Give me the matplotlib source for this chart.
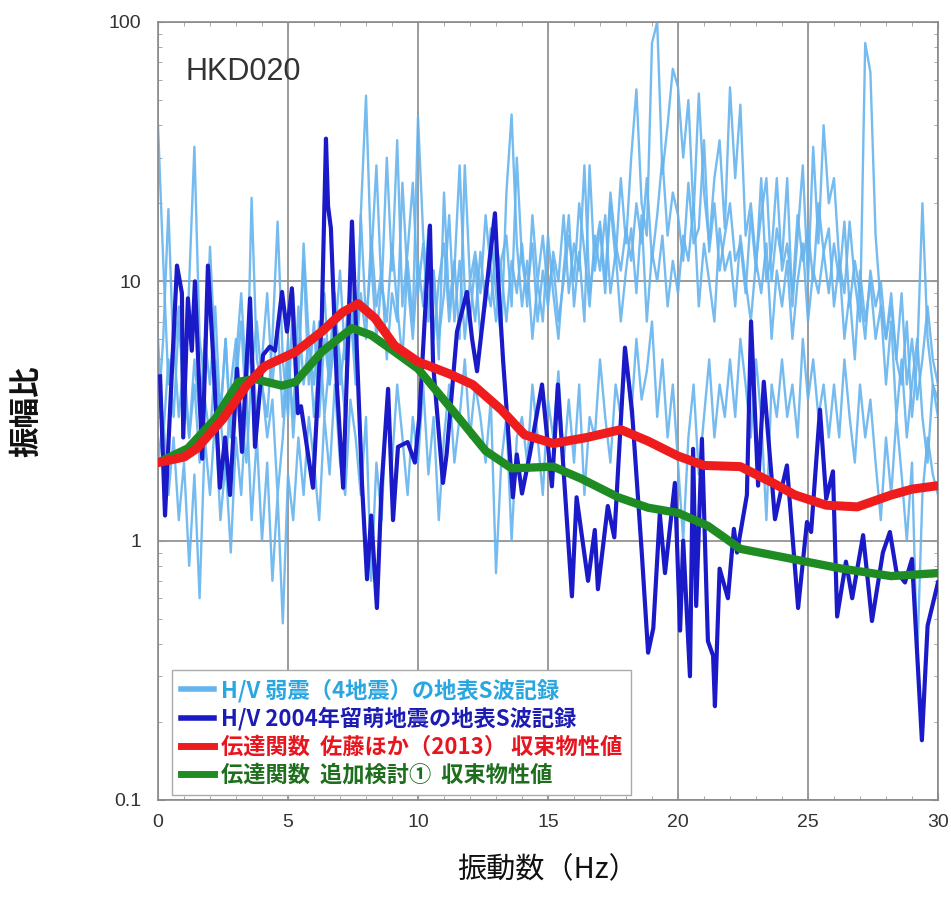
import numpy as np
import matplotlib
matplotlib.use("Agg")
import matplotlib.pyplot as plt
from matplotlib.lines import Line2D
from matplotlib.ticker import MultipleLocator, LogLocator, NullFormatter, FixedLocator, FixedFormatter

plt.rcParams['font.family'] = ['Noto Sans CJK JP', 'DejaVu Sans']

# ---------------- data ----------------
freq_grid = np.round(np.arange(0, 30.001, 0.2), 2)

weak1 = [40, 12, 4, 6, 3, 5, 2.5, 4, 2, 3.5,
         2.5, 5, 3, 1.8, 4, 6, 3, 2, 4.5, 7,
         4, 2.5, 3.5, 1.5, 2.5, 5, 3, 8, 4, 6,
         3, 5, 9, 4, 6, 11, 5, 8, 4, 18,
         52, 12, 6, 10, 7, 14, 8, 5, 12, 7,
         43, 15, 8, 11, 6, 9, 18, 7, 12, 6,
         10, 7, 13, 8, 16, 9, 6, 22, 44, 14,
         8, 12, 6, 10, 7, 15, 9, 6, 11, 18,
         8, 13, 7, 28, 11, 16, 9, 20, 12, 25,
         14, 30, 55, 20, 15, 83, 100, 26, 40, 66,
         56, 30, 50, 18, 53, 22, 14, 25, 35, 16,
         56, 25, 48, 15, 20, 12, 18, 25, 10, 16,
         12, 25, 8, 15, 28, 10, 33, 14, 40, 20,
         25, 12, 9, 17, 10, 7, 83, 64, 15, 8,
         6, 9, 5, 4, 7, 3, 5, 20, 6, 4,
         3.5]
weak2 = [3, 6, 19, 5, 8, 3, 10, 33, 6, 4,
         13.6, 5, 3, 6, 2.5, 4, 7, 3, 21, 5,
         4, 3, 6, 17, 5, 3, 9, 4, 14, 6,
         4, 7, 3, 5, 9, 4, 6, 10, 5, 18,
         7, 12, 28, 9, 30, 11, 35, 8, 13, 24,
         9, 14, 7, 11, 5, 22, 8, 12, 6, 28,
         10, 13, 9, 18, 11, 7, 12, 15, 8, 30,
         12, 9, 14, 7, 11, 8, 13, 10, 18, 9,
         14, 11, 28, 9, 13, 17, 10, 22, 14, 11,
         16, 12, 20, 14, 25, 12, 18, 30, 15, 22,
         18, 12, 24, 14, 16, 35, 13, 20, 11, 15,
         20, 12, 14, 9, 18, 11, 25, 10, 13, 25,
         11, 14, 9, 18, 12, 16, 10, 20, 13, 9,
         14, 10, 17, 8, 12, 9, 6, 11, 8, 10,
         6, 8, 5, 9, 4, 6, 3.5, 5, 8, 5,
         4]
weak3 = [2, 3, 1.5, 2.5, 1.2, 2, 0.8, 1.8, 0.6, 2.5,
         1.5, 3, 1.2, 2, 0.9, 2.5, 1.5, 3.5, 1.2, 2.5,
         1, 2, 0.7, 1.5, 0.48, 1.8, 1.2, 2.5, 1.5, 3,
         2, 1.2, 3, 1.8, 4, 2, 1.5, 3.5, 2.5, 1.5,
         3, 0.7, 2, 1.2, 3.5, 2, 4, 2.5, 1.5, 3,
         2, 4, 1.8, 3, 1.2, 2.5, 4, 2, 3, 5,
         2.5, 4, 3, 2, 3.5, 0.75, 2, 3, 1, 2.5,
         3, 2, 4, 2.5, 1.5, 3.5, 2.5, 4.5, 2, 3.5,
         2, 4, 1.5, 3, 2.5, 5, 3, 2, 4, 3,
         5, 3, 6, 3.5, 4.5, 7, 3, 5, 2.5, 4,
         2, 1.0, 2.5, 4, 1.8, 3, 5, 2.5, 4, 3,
         5, 3, 6, 4, 2.5, 5, 3, 1.2, 4, 3,
         5, 3, 4, 2.5, 6, 3.5, 5, 3, 4, 2.5,
         4, 2.5, 5, 3, 2, 4, 2.5, 3.5, 2, 1.2,
         2.5, 1.5, 3, 1.8, 1, 2, 0.35, 1.5, 2.5, 1.8,
         1.5]
weak4 = [6, 2.5, 5, 3, 7, 4, 2.5, 5, 3, 6,
         4, 8, 3, 6, 2.5, 5, 9, 4, 6, 3,
         5, 9, 4, 7, 3, 6, 2.5, 5, 12, 4,
         7, 3, 6, 4, 8, 5, 3, 7, 5, 9,
         6, 15, 8, 11, 5, 9, 7, 24, 10, 6,
         12, 8, 16, 6, 10, 14, 7, 11, 28, 9,
         7, 12, 6, 10, 8, 14, 11, 7, 12, 9,
         14, 8, 18, 10, 15, 9, 12, 7, 10, 15,
         10, 20, 13, 8, 15, 11, 18, 9, 13, 7,
         11, 16, 9, 18, 7, 13, 10, 15, 8, 12,
         9, 15, 12, 20, 8, 14, 10, 7, 16, 11,
         13, 8, 15, 10, 7, 12, 9, 14, 6, 11,
         8, 12, 6, 10, 14, 7, 11, 9, 13, 16,
         8, 12, 6, 9, 5, 11, 7, 10, 6, 8,
         4, 7, 3, 5, 2.5, 4, 6, 3, 2, 4,
         3]

rumoi_f = [0.08, 0.27, 0.73, 0.92, 0.97, 1.15, 1.3, 1.42, 1.7, 1.92, 2.1, 2.38, 2.58, 2.77,
           3.04, 3.23, 3.54, 3.73, 4.04, 4.3, 4.5, 4.77, 4.96, 5.15, 5.38, 5.5, 5.96, 6.3,
           6.46, 6.54, 6.65, 6.88, 7.12, 7.46, 7.65, 7.85, 8.04, 8.2, 8.42, 8.6, 8.85, 9.04,
           9.23, 9.6, 9.88, 10.05, 10.46, 10.58, 10.96, 11.1, 11.5, 11.88, 12.08, 12.27,
           12.65, 12.96, 13.08, 13.27, 13.65, 13.8, 14.0, 14.3, 14.77, 15.15, 15.38, 15.92,
           16.1, 16.54, 16.8, 16.92, 17.3, 17.55, 17.96, 18.23, 18.6, 18.85, 19.05, 19.3,
           19.5, 19.88, 20.08, 20.2, 20.46, 20.58, 20.7, 20.92, 21.15, 21.35, 21.42, 21.6,
           21.92, 22.15, 22.27, 22.65, 22.81, 23.08, 23.3, 23.73, 23.96, 24.19, 24.62, 24.96,
           25.12, 25.46, 25.7, 25.96, 26.12, 26.46, 26.7, 27.12, 27.46, 27.88, 28.15, 28.4,
           28.73, 29.0, 29.38, 29.6, 30.0]
rumoi_v = [4.3, 1.25, 11.5, 9, 2.5, 8.6, 5.4, 10, 2.07, 11.5, 5.6, 1.6, 2.5, 1.5,
           4.6, 2.2, 8.6, 2.3, 5.2, 5.6, 5.4, 9.1, 6.4, 9.4, 3.1, 3.3, 1.6, 7.2,
           35.5, 19.5, 16, 3.96, 1.6, 17, 5.35, 1.63, 0.71, 1.25, 0.55, 1.63, 3.85, 1.2,
           2.3, 2.4, 2.0, 3.0, 16.4, 4.8, 1.67, 2.15, 6.4, 9.1, 6.0, 4.5,
           9.7, 18.3, 10.4, 5.0, 1.47, 2.15, 1.52, 2.15, 4.0, 1.62, 4.0, 0.61,
           1.47, 0.7, 1.1, 0.65, 1.36, 1.03, 5.55, 3.17, 0.92, 0.37, 0.46, 1.27,
           0.75, 1.67, 0.45, 1.0, 0.30, 2.26, 0.56, 2.47, 0.41, 0.36, 0.23, 0.78,
           0.6, 1.11, 0.9, 1.5, 7, 1.63, 4.1, 1.21, 1.55, 1.95, 0.55, 1.18,
           1.08, 3.2, 1.45, 1.85, 0.51, 0.83, 0.6, 1.05, 0.49, 0.9, 1.08, 0.76,
           0.69, 0.85, 0.17, 0.47, 0.69]

sato_f = [0, 1, 1.5, 2.5, 3.4, 4.1, 5.3, 6.3, 7.1, 7.7, 8.35, 9.1, 10.0, 11.2, 12.1, 13.2,
          14.1, 15.2, 16.5, 17.8, 18.85, 20.0, 21.0, 22.4, 23.7, 24.5, 25.7, 26.9, 28.2, 29.0, 30.0]
sato_v = [2.0, 2.1, 2.27, 2.95, 3.96, 4.7, 5.35, 6.4, 7.6, 8.2, 7.2, 5.65, 4.9, 4.4, 4.0, 3.2,
          2.56, 2.37, 2.5, 2.68, 2.42, 2.12, 1.95, 1.93, 1.66, 1.5, 1.37, 1.35, 1.5, 1.58, 1.63]

add_f = [0, 1.15, 2.2, 3.1, 3.73, 4.77, 5.3, 6.3, 7.46, 8.2, 9.1, 10.0, 11.2, 12.6, 13.6,
         15.2, 16.3, 17.7, 18.85, 20.0, 21.15, 22.4, 24.4, 26.3, 28.2, 30.0]
add_v = [2.0, 2.27, 2.95, 4.1, 4.2, 3.96, 4.1, 5.35, 6.6, 6.2, 5.35, 4.6, 3.3, 2.22, 1.9,
         1.93, 1.73, 1.47, 1.34, 1.28, 1.14, 0.93, 0.85, 0.78, 0.73, 0.75]

labels = ["H/V 弱震（4地震）の地表S波記録",
          "H/V 2004年留萌地震の地表S波記録",
          "伝達関数  佐藤ほか（2013） 収束物性値",
          "伝達関数  追加検討①  収束物性値"]
station = "HKD020"
x_ticks = [0, 5, 10, 15, 20, 25, 30]
y_ticks = [0.1, 1, 10, 100]
y_ticklabels = ["0.1", "1", "10", "100"]

# ---------------- styling ----------------
c_weak = '#66b4ee'
c_rumoi = '#1a1ac8'
c_sato = '#ee1c1c'
c_add = '#1f8c23'
text_colors = ['#2aa6e0', '#1c1cb4', '#e8141e', '#1e6e1e']

fig = plt.figure(figsize=(9.51, 9.0), dpi=100)
ax = fig.add_axes([158/951, 1-800/900, 780/951, 778/900])

for s in (weak1, weak2, weak3, weak4):
    ax.plot(freq_grid, s, color=c_weak, lw=1.7, alpha=0.9, zorder=2,
            solid_joinstyle='round')
ax.plot(rumoi_f, rumoi_v, color=c_rumoi, lw=3.0, zorder=3, solid_joinstyle='round')
ax.plot(add_f, add_v, color=c_add, lw=6, zorder=4, solid_capstyle='round',
        solid_joinstyle='round')
ax.plot(sato_f, sato_v, color=c_sato, lw=6.5, zorder=5, solid_capstyle='round',
        solid_joinstyle='round')

ax.set_yscale('log')
ax.set_xlim(0, 30)
ax.set_ylim(0.1, 100)
ax.xaxis.set_major_locator(FixedLocator(x_ticks))
ax.xaxis.set_minor_locator(MultipleLocator(1))
ax.yaxis.set_major_locator(FixedLocator(y_ticks))
ax.yaxis.set_major_formatter(FixedFormatter(y_ticklabels))
ax.yaxis.set_minor_locator(LogLocator(base=10, subs=np.arange(2, 10)))
ax.yaxis.set_minor_formatter(NullFormatter())

ax.grid(True, which='major', color='#8a8a8a', lw=1.2, zorder=1)
ax.tick_params(which='both', direction='in', top=True, right=True, colors='#999999',
               labelcolor='#333333')
ax.tick_params(which='major', length=5, labelsize=14, pad=10)
ax.tick_params(which='minor', length=3)
ax.tick_params(axis='y', which='major', pad=12)
for lab in ax.get_xticklabels() + ax.get_yticklabels():
    lab.set_family(['Liberation Sans', 'DejaVu Sans'])
for sp in ax.spines.values():
    sp.set_color('#8a8a8a')
    sp.set_linewidth(1.2)

ax.text(0.035, 0.955, station, transform=ax.transAxes, fontsize=22, color='#333333',
        ha='left', va='top', family=['Liberation Sans', 'DejaVu Sans'])

ax.set_xlabel("振動数（Hz）", fontsize=21, color='#111111')
ax.xaxis.set_label_coords(0.5, -0.071)
ax.set_ylabel("振幅比", fontsize=22, fontweight='bold', color='#111111')
ax.yaxis.set_label_coords(-0.148, 0.5)

handles = [Line2D([], [], color=c_weak, lw=4),
           Line2D([], [], color=c_rumoi, lw=4),
           Line2D([], [], color=c_sato, lw=5),
           Line2D([], [], color=c_add, lw=5)]
leg = ax.legend(handles, labels, loc='lower left', bbox_to_anchor=(0.018, 0.006),
                borderaxespad=0, fancybox=False, framealpha=1, edgecolor='#aaaaaa',
                fontsize=16, handlelength=1.5, handletextpad=0.3, labelspacing=0.22,
                borderpad=0.4)
leg.set_zorder(10)
for t, c in zip(leg.get_texts(), text_colors):
    t.set_color(c)
    t.set_fontweight('bold')

fig.savefig("out.png", dpi=100)
